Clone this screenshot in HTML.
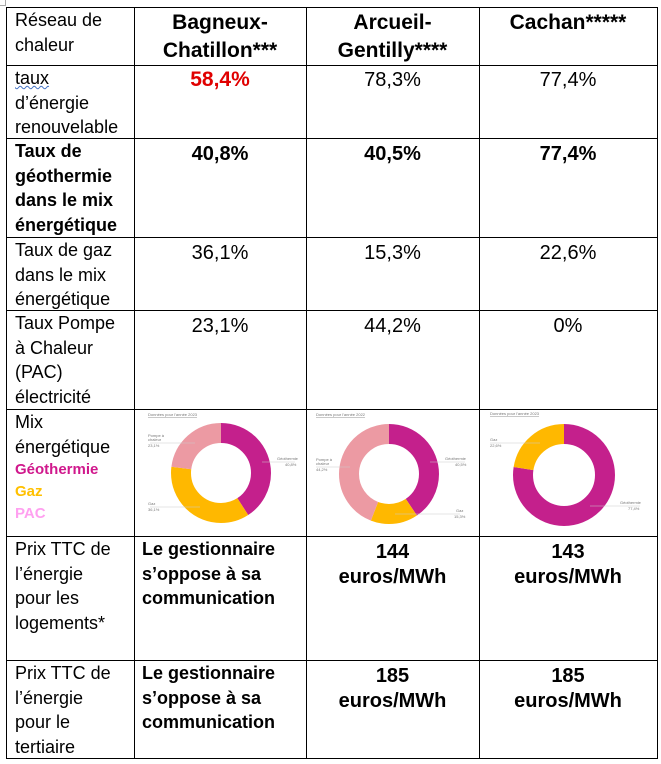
<!DOCTYPE html>
<html><head><meta charset="utf-8"><style>
body{margin:0;width:661px;height:764px;background:#fff;position:relative;overflow:hidden;font-family:"Liberation Sans",Arial,sans-serif;color:#000}
.h{position:absolute;background:#000;height:1px}
.v{position:absolute;background:#000;width:1px}
.t{position:absolute;font-size:18px;line-height:24.5px;white-space:nowrap}
.c{text-align:center}
.b{font-weight:bold}
.hd{font-size:21px;font-weight:bold;line-height:28px}
.pr{font-size:20px;font-weight:bold;line-height:25px}
.g{position:absolute}
.sm{position:absolute;font-size:4px;color:#666;white-space:nowrap}
</style></head><body>
<div style="position:absolute;left:0;top:0;width:5px;height:5px;border:1px solid #aaa;border-top:none;border-left:none"></div>
<div class="h" style="left:6px;top:7px;width:652px"></div>
<div class="h" style="left:6px;top:65px;width:652px"></div>
<div class="h" style="left:6px;top:138px;width:652px"></div>
<div class="h" style="left:6px;top:237px;width:652px"></div>
<div class="h" style="left:6px;top:310px;width:652px"></div>
<div class="h" style="left:6px;top:409px;width:652px"></div>
<div class="h" style="left:6px;top:536px;width:652px"></div>
<div class="h" style="left:6px;top:660px;width:652px"></div>
<div class="h" style="left:6px;top:758px;width:652px"></div>
<div class="v" style="left:6px;top:7px;height:752px"></div>
<div class="v" style="left:134px;top:7px;height:752px"></div>
<div class="v" style="left:306px;top:7px;height:752px"></div>
<div class="v" style="left:479px;top:7px;height:752px"></div>
<div class="v" style="left:657px;top:7px;height:752px"></div>

<div class="t" style="left:15px;top:8px">Réseau de<br>chaleur</div>
<div class="t c hd" style="left:134px;width:172px;top:9px">Bagneux-<br>Chatillon***</div>
<div class="t c hd" style="left:306px;width:173px;top:9px">Arcueil-<br>Gentilly****</div>
<div class="t c hd" style="left:479px;width:178px;top:9px">Cachan*****</div>

<div class="t" style="left:15px;top:66px"><span style="text-decoration:underline wavy #4472c4;text-decoration-thickness:1px">taux</span><br>d’énergie<br>renouvelable</div>
<div class="t c b" style="left:134px;width:172px;top:68px;font-size:21px;color:#e00000">58,4%</div>
<div class="t c" style="left:306px;width:173px;top:68px;font-size:20px">78,3%</div>
<div class="t c" style="left:479px;width:178px;top:68px;font-size:20px">77,4%</div>

<div class="t b" style="left:15px;top:139px">Taux de<br>géothermie<br>dans le mix<br>énergétique</div>
<div class="t c b" style="left:134px;width:172px;top:142px;font-size:20px">40,8%</div>
<div class="t c b" style="left:306px;width:173px;top:142px;font-size:20px">40,5%</div>
<div class="t c b" style="left:479px;width:178px;top:142px;font-size:20px">77,4%</div>

<div class="t" style="left:15px;top:238px">Taux de gaz<br>dans le mix<br>énergétique</div>
<div class="t c" style="left:134px;width:172px;top:241px;font-size:20px">36,1%</div>
<div class="t c" style="left:306px;width:173px;top:241px;font-size:20px">15,3%</div>
<div class="t c" style="left:479px;width:178px;top:241px;font-size:20px">22,6%</div>

<div class="t" style="left:15px;top:311px">Taux Pompe<br>à Chaleur<br>(PAC)<br>électricité</div>
<div class="t c" style="left:134px;width:172px;top:314px;font-size:20px">23,1%</div>
<div class="t c" style="left:306px;width:173px;top:314px;font-size:20px">44,2%</div>
<div class="t c" style="left:479px;width:178px;top:314px;font-size:20px">0%</div>

<div class="t" style="left:15px;top:410px">Mix<br>énergétique</div>
<div class="t b" style="left:15px;top:459px;font-size:15px;line-height:22px;color:#d0188c">Géothermie</div>
<div class="t b" style="left:15px;top:481px;font-size:15px;line-height:22px;color:#ffc000">Gaz</div>
<div class="t b" style="left:15px;top:503px;font-size:15px;line-height:22px;color:#ffa0f0">PAC</div>

<svg class="g" style="left:0;top:0" width="661" height="764">
<g transform="rotate(-90 221 473)" fill="none" stroke-width="20">
<circle cx="221" cy="473" r="40" stroke="#c4208c" stroke-dasharray="102.5 400"/>
<circle cx="221" cy="473" r="40" stroke="#ffb800" stroke-dasharray="0 102.5 90.7 400"/>
<circle cx="221" cy="473" r="40" stroke="#ec9aa3" stroke-dasharray="0 193.2 58.1 400"/>
</g>
<g transform="rotate(-90 389 474)" fill="none" stroke-width="20">
<circle cx="389" cy="474" r="40" stroke="#c4208c" stroke-dasharray="101.8 400"/>
<circle cx="389" cy="474" r="40" stroke="#ffb800" stroke-dasharray="0 101.8 38.5 400"/>
<circle cx="389" cy="474" r="40" stroke="#ec9aa3" stroke-dasharray="0 140.3 111 400"/>
</g>
<g transform="rotate(-90 564 475)" fill="none" stroke-width="20">
<circle cx="564" cy="475" r="41" stroke="#c4208c" stroke-dasharray="199.4 400"/>
<circle cx="564" cy="475" r="41" stroke="#ffb800" stroke-dasharray="0 199.4 58.2 400"/>
</g>
<g stroke="#ccc" stroke-width="0.6">
<line x1="150" y1="443" x2="195" y2="443"/><line x1="262" y1="462" x2="295" y2="462"/><line x1="150" y1="507" x2="200" y2="507"/>
<line x1="316" y1="467" x2="350" y2="467"/><line x1="430" y1="462" x2="465" y2="462"/><line x1="395" y1="514" x2="460" y2="514"/>
<line x1="490" y1="443" x2="540" y2="443"/><line x1="590" y1="506" x2="640" y2="506"/>
</g>
<g font-family="Liberation Sans,sans-serif" font-size="4" fill="#777">
<text x="148" y="416" text-decoration="underline">Données pour l'année 2023</text>
<text x="316" y="416" text-decoration="underline">Données pour l'année 2022</text>
<text x="490" y="415" text-decoration="underline">Données pour l'année 2023</text>
<text x="148" y="437">Pompe à</text><text x="148" y="441">chaleur</text><text x="148" y="447">23,1%</text>
<text x="277" y="460">Géothermie</text><text x="285" y="466">40,8%</text>
<text x="148" y="505">Gaz</text><text x="148" y="511">36,1%</text>
<text x="316" y="461">Pompe à</text><text x="316" y="465">chaleur</text><text x="316" y="471">44,2%</text>
<text x="445" y="460">Géothermie</text><text x="455" y="466">40,5%</text>
<text x="456" y="512">Gaz</text><text x="454" y="518">15,3%</text>
<text x="490" y="441">Gaz</text><text x="490" y="447">22,6%</text>
<text x="620" y="504">Géothermie</text><text x="628" y="510">77,4%</text>
</g>
</svg>

<div class="t" style="left:15px;top:537px">Prix TTC de<br>l’énergie<br>pour les<br>logements*</div>
<div class="t b" style="left:142px;top:537px">Le gestionnaire<br>s’oppose à sa<br>communication</div>
<div class="t c pr" style="left:306px;width:173px;top:540px">144<br>euros/MWh</div>
<div class="t c pr" style="left:479px;width:178px;top:540px">143<br>euros/MWh</div>

<div class="t" style="left:15px;top:661px">Prix TTC de<br>l’énergie<br>pour le<br>tertiaire</div>
<div class="t b" style="left:142px;top:661px">Le gestionnaire<br>s’oppose à sa<br>communication</div>
<div class="t c pr" style="left:306px;width:173px;top:664px">185<br>euros/MWh</div>
<div class="t c pr" style="left:479px;width:178px;top:664px">185<br>euros/MWh</div>
</body></html>
